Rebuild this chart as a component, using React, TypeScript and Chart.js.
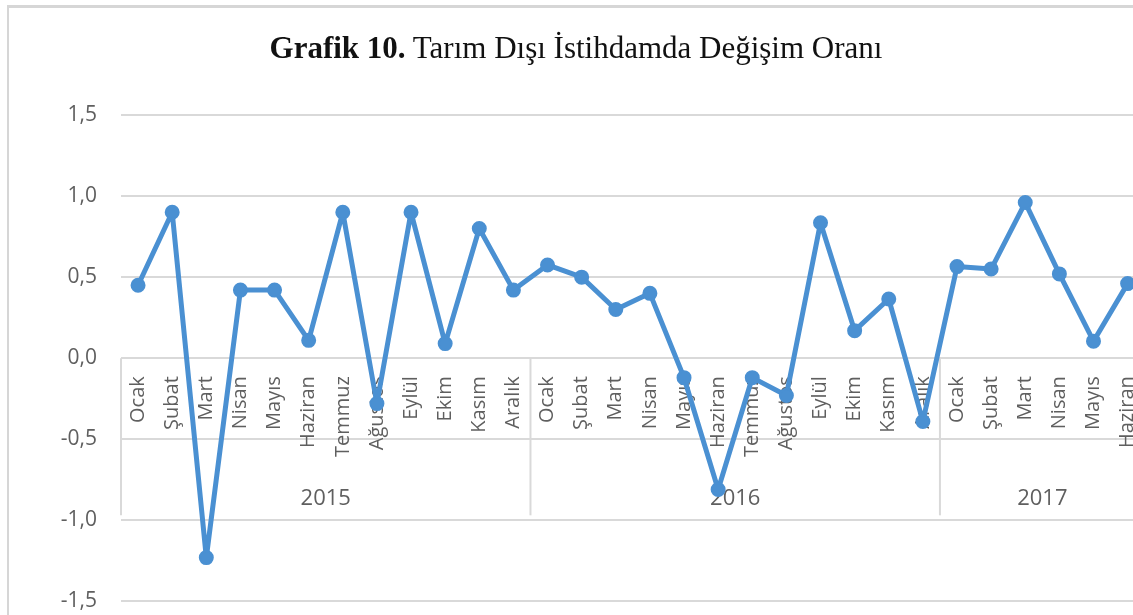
import React, { useEffect, useRef } from 'react';
import { Chart, registerables } from 'chart.js';

Chart.register(...registerables);

const MONTH_LABELS = [
  'Ocak', 'Şubat', 'Mart', 'Nisan', 'Mayıs', 'Haziran', 'Temmuz', 'Ağustos', 'Eylül', 'Ekim', 'Kasım', 'Aralık',
  'Ocak', 'Şubat', 'Mart', 'Nisan', 'Mayıs', 'Haziran', 'Temmuz', 'Ağustos', 'Eylül', 'Ekim', 'Kasım', 'Aralık',
  'Ocak', 'Şubat', 'Mart', 'Nisan', 'Mayıs', 'Haziran',
];
const YEARS = ['2015', '2016', '2017'];
const YEAR_MONTH_COUNTS = [12, 12, 6];

const VALUES_2015 = [0.45, 0.9, -1.23, 0.42, 0.42, 0.11, 0.9, -0.28, 0.9, 0.09, 0.8, 0.42];
const VALUES_2016 = [0.575, 0.5, 0.3, 0.4, -0.12, -0.81, -0.12, -0.23, 0.835, 0.17, 0.365, -0.39];
const VALUES_2017 = [0.565, 0.55, 0.96, 0.52, 0.105, 0.46];

const Y_MIN = -1.5;
const Y_MAX = 1.5;
const Y_STEP = 0.5;

const LINE_COLOR = '#4a90d2';
const GRID_COLOR = '#d9d9d9';
const TEXT_COLOR = '#5f5f5f';
const FONT = '"Open Sans", "Noto Sans", sans-serif';

const yearGroupsPlugin = {
  id: 'yearGroups',
  beforeDatasetsDraw(chart: any) {
    const { ctx, scales } = chart;
    const x = scales.x;
    const y = scales.y;
    const y0 = y.getPixelForValue(0);
    const yEnd = y.getPixelForValue(-1.0) - 5;
    const half = (x.getPixelForValue(1) - x.getPixelForValue(0)) / 2;
    ctx.save();
    ctx.strokeStyle = GRID_COLOR;
    ctx.lineWidth = 2;
    ctx.fillStyle = TEXT_COLOR;
    ctx.font = `22px ${FONT}`;
    ctx.textAlign = 'center';
    ctx.textBaseline = 'middle';
    let start = 0;
    YEARS.forEach((yr, gi) => {
      const n = YEAR_MONTH_COUNTS[gi];
      const left = x.getPixelForValue(start) - half;
      const right = x.getPixelForValue(start + n - 1) + half;
      ctx.beginPath();
      ctx.moveTo(left, y0);
      ctx.lineTo(left, yEnd);
      ctx.stroke();
      if (gi === YEARS.length - 1) {
        ctx.beginPath();
        ctx.moveTo(right, y0);
        ctx.lineTo(right, yEnd);
        ctx.stroke();
      }
      ctx.fillText(yr, (left + right) / 2, y0 + 141);
      start += n;
    });
    ctx.restore();
  },
};

export default function App() {
  const canvasRef = useRef<HTMLCanvasElement | null>(null);

  useEffect(() => {
    const canvas = canvasRef.current;
    if (!canvas) return;
    const chart = new Chart(canvas, {
      type: 'line',
      data: {
        labels: MONTH_LABELS,
        datasets: [
          {
            data: [...VALUES_2015, ...VALUES_2016, ...VALUES_2017],
            borderColor: LINE_COLOR,
            backgroundColor: LINE_COLOR,
            borderWidth: 5,
            borderJoinStyle: 'round',
            borderCapStyle: 'round',
            pointRadius: 6.5,
            pointBorderWidth: 2,
            pointBackgroundColor: LINE_COLOR,
            pointBorderColor: LINE_COLOR,
            tension: 0,
            clip: false as any,
          },
        ],
      },
      options: {
        responsive: false,
        animation: false,
        maintainAspectRatio: false,
        layout: { padding: { left: 0, right: 23, top: 115, bottom: 15 } },
        plugins: {
          legend: { display: false },
          title: { display: false },
          tooltip: { enabled: false },
        },
        scales: {
          x: {
            type: 'category',
            position: { y: 0 } as any,
            offset: true,
            afterFit: (scale: any) => {
              scale.height = 0;
            },
            grid: { display: false, drawTicks: false },
            border: { display: false },
            ticks: {
              autoSkip: false,
              minRotation: 90,
              maxRotation: 90,
              padding: 18,
              color: TEXT_COLOR,
              font: { family: FONT, size: 20 },
            },
          },
          y: {
            min: Y_MIN,
            max: Y_MAX,
            afterFit: (scale: any) => {
              scale.width = 121;
            },
            grid: { color: GRID_COLOR, lineWidth: 2, drawTicks: false },
            border: { display: false },
            ticks: {
              stepSize: Y_STEP,
              padding: 24,
              color: TEXT_COLOR,
              font: { family: FONT, size: 21 },
              callback: (v: any) => Number(v).toFixed(1).replace('.', ','),
            },
          },
        },
      },
      plugins: [yearGroupsPlugin],
    });
    return () => chart.destroy();
  }, []);

  return (
    <div
      style={{
        position: 'fixed',
        left: 0,
        top: 0,
        width: 1133,
        height: 615,
        overflow: 'hidden',
        background: '#ffffff',
      }}
    >
      <div
        style={{
          position: 'absolute',
          left: 7,
          top: 5,
          width: 2000,
          height: 2000,
          borderTop: '3px solid #d6d6d6',
          borderLeft: '2px solid #d6d6d6',
        }}
      />
      <canvas
        ref={canvasRef}
        width={1170}
        height={638}
        style={{ position: 'absolute', left: 0, top: 0, width: 1170, height: 638, display: 'block' }}
      />
      <div
        style={{
          position: 'absolute',
          left: 0,
          top: 32,
          width: 1152,
          textAlign: 'center',
          fontFamily: '"Liberation Serif", "Times New Roman", serif',
          fontSize: 31,
          lineHeight: '31px',
          color: '#111',
          whiteSpace: 'nowrap',
        }}
      >
        <b>Grafik 10.</b> Tarım Dışı İstihdamda Değişim Oranı
      </div>
    </div>
  );
}
